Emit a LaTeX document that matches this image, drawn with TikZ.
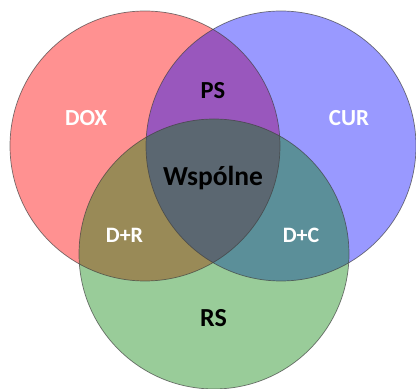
\documentclass[tikz,border=0pt]{standalone}
\usepackage{fontspec}
\setmainfont{Carlito}
\begin{document}
\begin{tikzpicture}[x=1pt,y=1pt,
  ring/.style={draw=black!75,draw opacity=0.7,line width=0.7pt},
  lab/.style={anchor=base,inner sep=0pt,font=\bfseries},
  wlab/.style={lab,text=white},
  blab/.style={lab,text=black}]
\useasboundingbox (0,0) rectangle (416,389);
\fill[white] (0,0) rectangle (416,389);
\fill[red,fill opacity=0.43] (145,243) circle (135);
\fill[blue,fill opacity=0.4] (281,243) circle (135);
\fill[green!50!black,fill opacity=0.4] (214,135) circle (135);
\draw[ring] (145,243) circle (135);
\draw[ring] (281,243) circle (135);
\draw[ring] (214,135) circle (135);
\node[wlab,font=\bfseries\fontsize{23}{23}\selectfont] (dox) at (86,263) {DOX};
\node[wlab,font=\bfseries\fontsize{23}{23}\selectfont] (cur) at (349,263) {CUR};
\node[blab,font=\bfseries\fontsize{24.5}{24.5}\selectfont] (ps) at (213,290) {PS};
\node[blab,font=\bfseries\fontsize{27.5}{27.5}\selectfont] (wsp) at (213,203) {Wspólne};
\node[wlab,font=\bfseries\fontsize{22}{22}\selectfont] (dr) at (124.5,146) {D+R};
\node[wlab,font=\bfseries\fontsize{22}{22}\selectfont] (dc) at (301,146) {D+C};
\node[blab,font=\bfseries\fontsize{26}{26}\selectfont] (rs) at (213.5,62) {RS};
\end{tikzpicture}
\end{document}
